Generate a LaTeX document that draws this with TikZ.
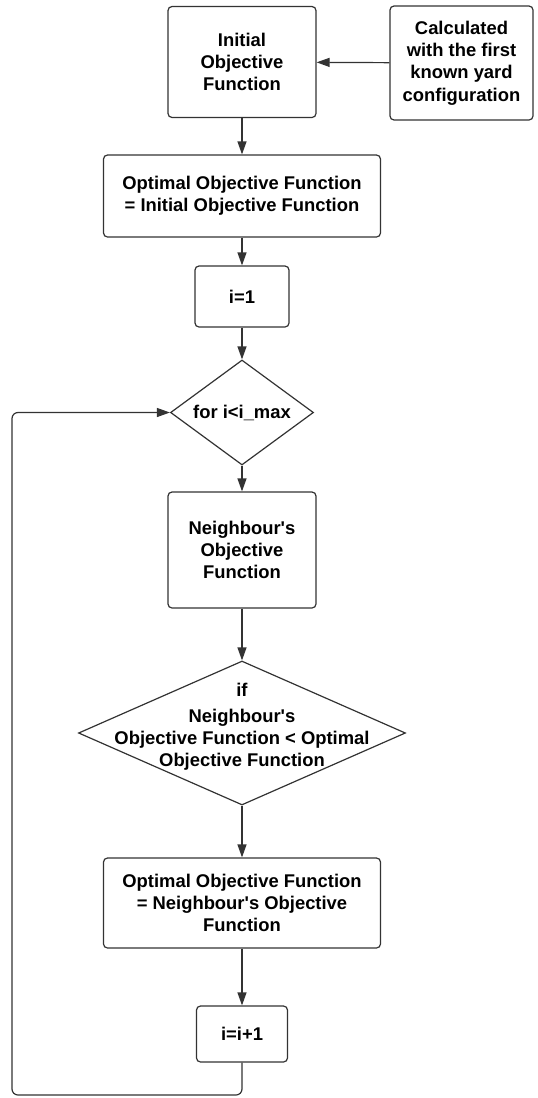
\documentclass[tikz,border=0pt]{standalone}
\usepackage{fontspec}
\setmainfont{Liberation Sans}
\usetikzlibrary{shapes.geometric,arrows.meta}
\tikzstyle{txt}=[
  font=\bfseries\fontsize{9.2}{11.2}\selectfont,
  align=center,
  text=black
]
\tikzstyle{process}=[
  txt,
  draw=black!80,
  fill=white,
  line width=0.6pt,
  rounded corners=2pt,
  inner sep=1pt
]
\tikzstyle{decision}=[
  draw=black!80,
  fill=white,
  line width=0.6pt,
  diamond,
  inner sep=0pt
]
\tikzstyle{arrow}=[
  draw=black!80,
  line width=0.6pt,
  -{Triangle[length=6.5pt,width=4.5pt]}
]

\begin{document}
\begin{tikzpicture}[x=0.5pt,y=-0.5pt]
          \def \cx {242}
          \useasboundingbox (0,0) rectangle (537,1098);

          \node[process, minimum width=74pt, minimum height=55.5pt] (init) at (\cx, 62) {Initial\\Objective\\Function};
          \node[process, minimum width=71.5pt, minimum height=57pt] (calc) at (461.5, 63) {Calculated\\with the first\\known yard\\configuration};
          \node[process, minimum width=138.5pt, minimum height=41pt] (opt1) at (\cx, 196) {Optimal Objective Function\\= Initial Objective Function};
          \node[process, minimum width=47pt, minimum height=30.5pt] (i1) at (\cx, 296.5) {i=1};
          \node[decision, minimum width=71.5pt, minimum height=52.5pt,
            label={[txt]center:for i<i\_max}] (loop) at (\cx, 412.5) {};
          \node[process, minimum width=74pt, minimum height=58pt] (nb) at (\cx, 550) {Neighbour\textquotesingle s\\Objective\\Function};
          \node[decision, minimum width=163.5pt, minimum height=72pt,
            label={[txt, yshift=3pt]center:if\\[1.5pt]Neighbour\textquotesingle s\\Objective Function < Optimal\\Objective Function}] (cmp) at (\cx, 733) {};
          \node[process, minimum width=138.5pt, minimum height=45pt] (opt2) at (\cx, 903) {Optimal Objective Function\\= Neighbour\textquotesingle s Objective\\Function};
          \node[process, minimum width=45.5pt, minimum height=28pt] (inc) at (\cx, 1034) {i=i+1};
          \coordinate (back) at (12, 1095);

          \draw[arrow] (calc) -- (init);
          \draw[arrow] (init) -- (opt1);
          \draw[arrow] (opt1) -- (i1);
          \draw[arrow] (i1) -- (loop.north);
          \draw[arrow] (loop.south) -- (nb);
          \draw[arrow] (nb) -- (cmp.north);
          \draw[arrow] (cmp.south) -- (opt2);
          \draw[arrow] (opt2) -- (inc);
          \draw[arrow, rounded corners=3pt] (inc.south) |- (back) |- (loop.west);
        \end{tikzpicture}
\end{document}
